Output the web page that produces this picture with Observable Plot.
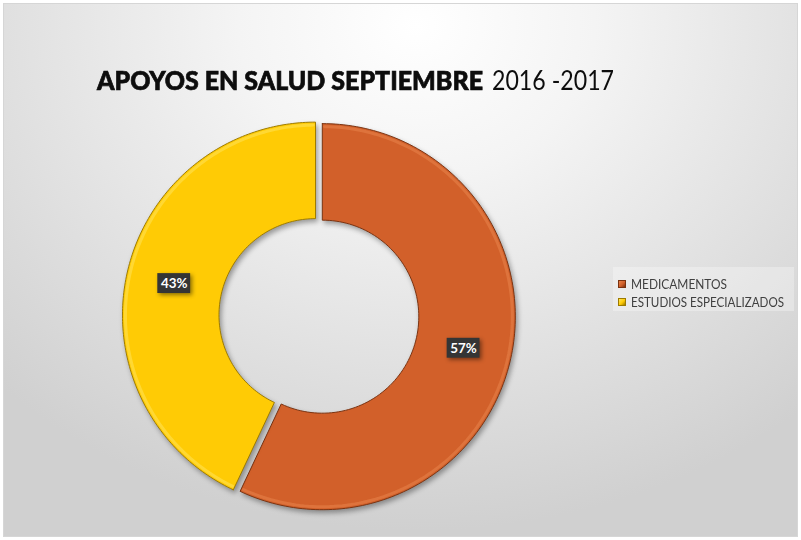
<!DOCTYPE html>
<html>
<head>
<meta charset="utf-8">
<script src="https://cdn.jsdelivr.net/npm/d3@7"></script>
<script src="https://cdn.jsdelivr.net/npm/@observablehq/plot@0.6"></script>
<style>
  html, body { margin: 0; padding: 0; background: #ffffff; }
  #frame {
    position: absolute; left: 3px; top: 3px; width: 793px; height: 532px;
    border: 1px solid #d6d6d6;
    background: radial-gradient(ellipse 75% 95% at 52% 4%, #ffffff 0%, #f4f4f4 30%, #e2e2e2 65%, #d0d0d0 100%);
    overflow: hidden;
  }
  #chart { position: absolute; left: -4px; top: -4px; }
  .title { position: absolute; top: 59px; white-space: nowrap; transform-origin: 0 0; color: #0d0d0d; }
  .t-bold { left: 93px; font-family: "Lato", "Open Sans", sans-serif; font-weight: 900; font-size: 27px;
            -webkit-text-stroke: 0.7px #0d0d0d; }
  .t-norm { left: 488px; font-family: "Lato", "Open Sans", sans-serif; font-weight: 400; font-size: 27px; }
  #legend {
    position: absolute; left: 609px; top: 263px; width: 181px; height: 44px;
    background: rgba(255,255,255,0.3);
  }
  .li { position: absolute; left: 0; white-space: nowrap; font-family: "Lato", "Open Sans", sans-serif;
        font-size: 14px; color: #404040; }
  .li .sw { position: absolute; left: 5px; width: 8px; height: 8px; box-sizing: border-box; }
  .li .tx { position: absolute; left: 18px; transform-origin: 0 0; }
  .shadowed { filter: drop-shadow(2px 3px 2.5px rgba(0,0,0,0.35)); }
  .boxshadow { filter: drop-shadow(2px 2px 2px rgba(0,0,0,0.45)); }
</style>
</head>
<body>
<div id="frame">
  <div id="chart"></div>
  <div class="title t-bold" id="tb">APOYOS EN SALUD SEPTIEMBRE</div>
  <div class="title t-norm" id="tn">2016 -2017</div>
  <div id="legend"></div>
</div>
<script>
// ---- data ----
const categories = ["MEDICAMENTOS", "ESTUDIOS ESPECIALIZADOS"];
const values = [57, 43];
const percentLabels = ["57%", "43%"];
const colors = ["#D2602A", "#FFCB05"];
const edgeColors = ["#7a3210", "#9c7a00"];
const highlightColors = ["#e8834a", "#ffe45a"];

// ---- geometry (layout) ----
const W = 801, H = 540;
const cx = 320, cy = 317, R = 194;        // pixel center / outer radius in the svg
const inner = 0.5;                          // inner radius as fraction of outer
const explode = 3.5 / R;                    // explosion offset in data units

const pie = d3.pie().sort(null).value(d => d)(values);

function arcPoints(a0, a1, r, n) {
  const pts = [];
  for (let i = 0; i <= n; i++) {
    const a = a0 + (a1 - a0) * i / n;
    pts.push([Math.sin(a) * r, Math.cos(a) * r]);
  }
  return pts;
}

const slices = pie.map((p, i) => {
  const mid = (p.startAngle + p.endAngle) / 2;
  const dx = Math.sin(mid) * explode, dy = Math.cos(mid) * explode;
  const outer = arcPoints(p.startAngle, p.endAngle, 1, 160);
  const inn = arcPoints(p.endAngle, p.startAngle, inner, 100);
  const poly = outer.concat(inn);
  poly.push(poly[0]);
  const points = poly.map(([x, y]) => ({x: x + dx, y: y + dy, cat: categories[i]}));
  const hl = arcPoints(p.startAngle + 0.012, p.endAngle - 0.012, 1 - 3 / R, 160)
    .map(([x, y]) => ({x: x + dx, y: y + dy}));
  const lr = (1 + inner) / 2;
  const label = {x: Math.sin(mid) * lr + dx, y: Math.cos(mid) * lr + dy, text: percentLabels[i]};
  return {points, hl, label, color: colors[i], edge: edgeColors[i], hlColor: highlightColors[i]};
});

const marks = [];
slices.forEach(s => {
  marks.push(Plot.line(s.points, {x: "x", y: "y", fill: s.color, stroke: s.edge, strokeWidth: 1, className: "shadowed", curve: "linear"}));
  marks.push(Plot.line(s.hl, {x: "x", y: "y", stroke: s.hlColor, strokeWidth: 3, strokeOpacity: 0.55}));
});
const labelData = slices.map(s => s.label);
marks.push(Plot.rect(labelData, {x1: "x", x2: "x", y1: "y", y2: "y", fill: "#353535",
  insetLeft: -16.5, insetRight: -16.5, insetTop: -10, insetBottom: -10, className: "boxshadow"}));
marks.push(Plot.text(labelData, {x: "x", y: "y", text: "text", fill: "white", fontWeight: "bold",
  fontSize: 13.5, fontFamily: "Lato, 'Open Sans', sans-serif", dy: 0.5}));

const chart = Plot.plot({
  width: W, height: H, margin: 0,
  x: {domain: [-cx / R, (W - cx) / R], axis: null},
  y: {domain: [-(H - cy) / R, cy / R], axis: null},
  style: {background: "transparent", overflow: "visible"},
  marks
});
document.getElementById("chart").appendChild(chart);

// ---- legend ----
const legend = document.getElementById("legend");
const legendTops = [8, 26];
const legendWidths = [96, 153];
categories.forEach((c, i) => {
  const item = document.createElement("div");
  item.className = "li";
  item.style.top = legendTops[i] + "px";
  const sw = document.createElement("span");
  sw.className = "sw";
  sw.style.top = "5px";
  sw.style.background = `linear-gradient(135deg, ${highlightColors[i]} 0%, ${colors[i]} 55%, ${edgeColors[i]} 100%)`;
  sw.style.border = `1px solid ${edgeColors[i]}`;
  const tx = document.createElement("span");
  tx.className = "tx";
  tx.textContent = c;
  item.appendChild(sw); item.appendChild(tx);
  legend.appendChild(item);
  const w = tx.getBoundingClientRect().width;
  tx.style.transform = `scaleX(${legendWidths[i] / w})`;
});

// fit title widths
function fit(id, target) {
  const el = document.getElementById(id);
  const w = el.getBoundingClientRect().width;
  el.style.transform = `scaleX(${target / w})`;
}
fit("tb", 386);
fit("tn", 122);
</script>
</body>
</html>
